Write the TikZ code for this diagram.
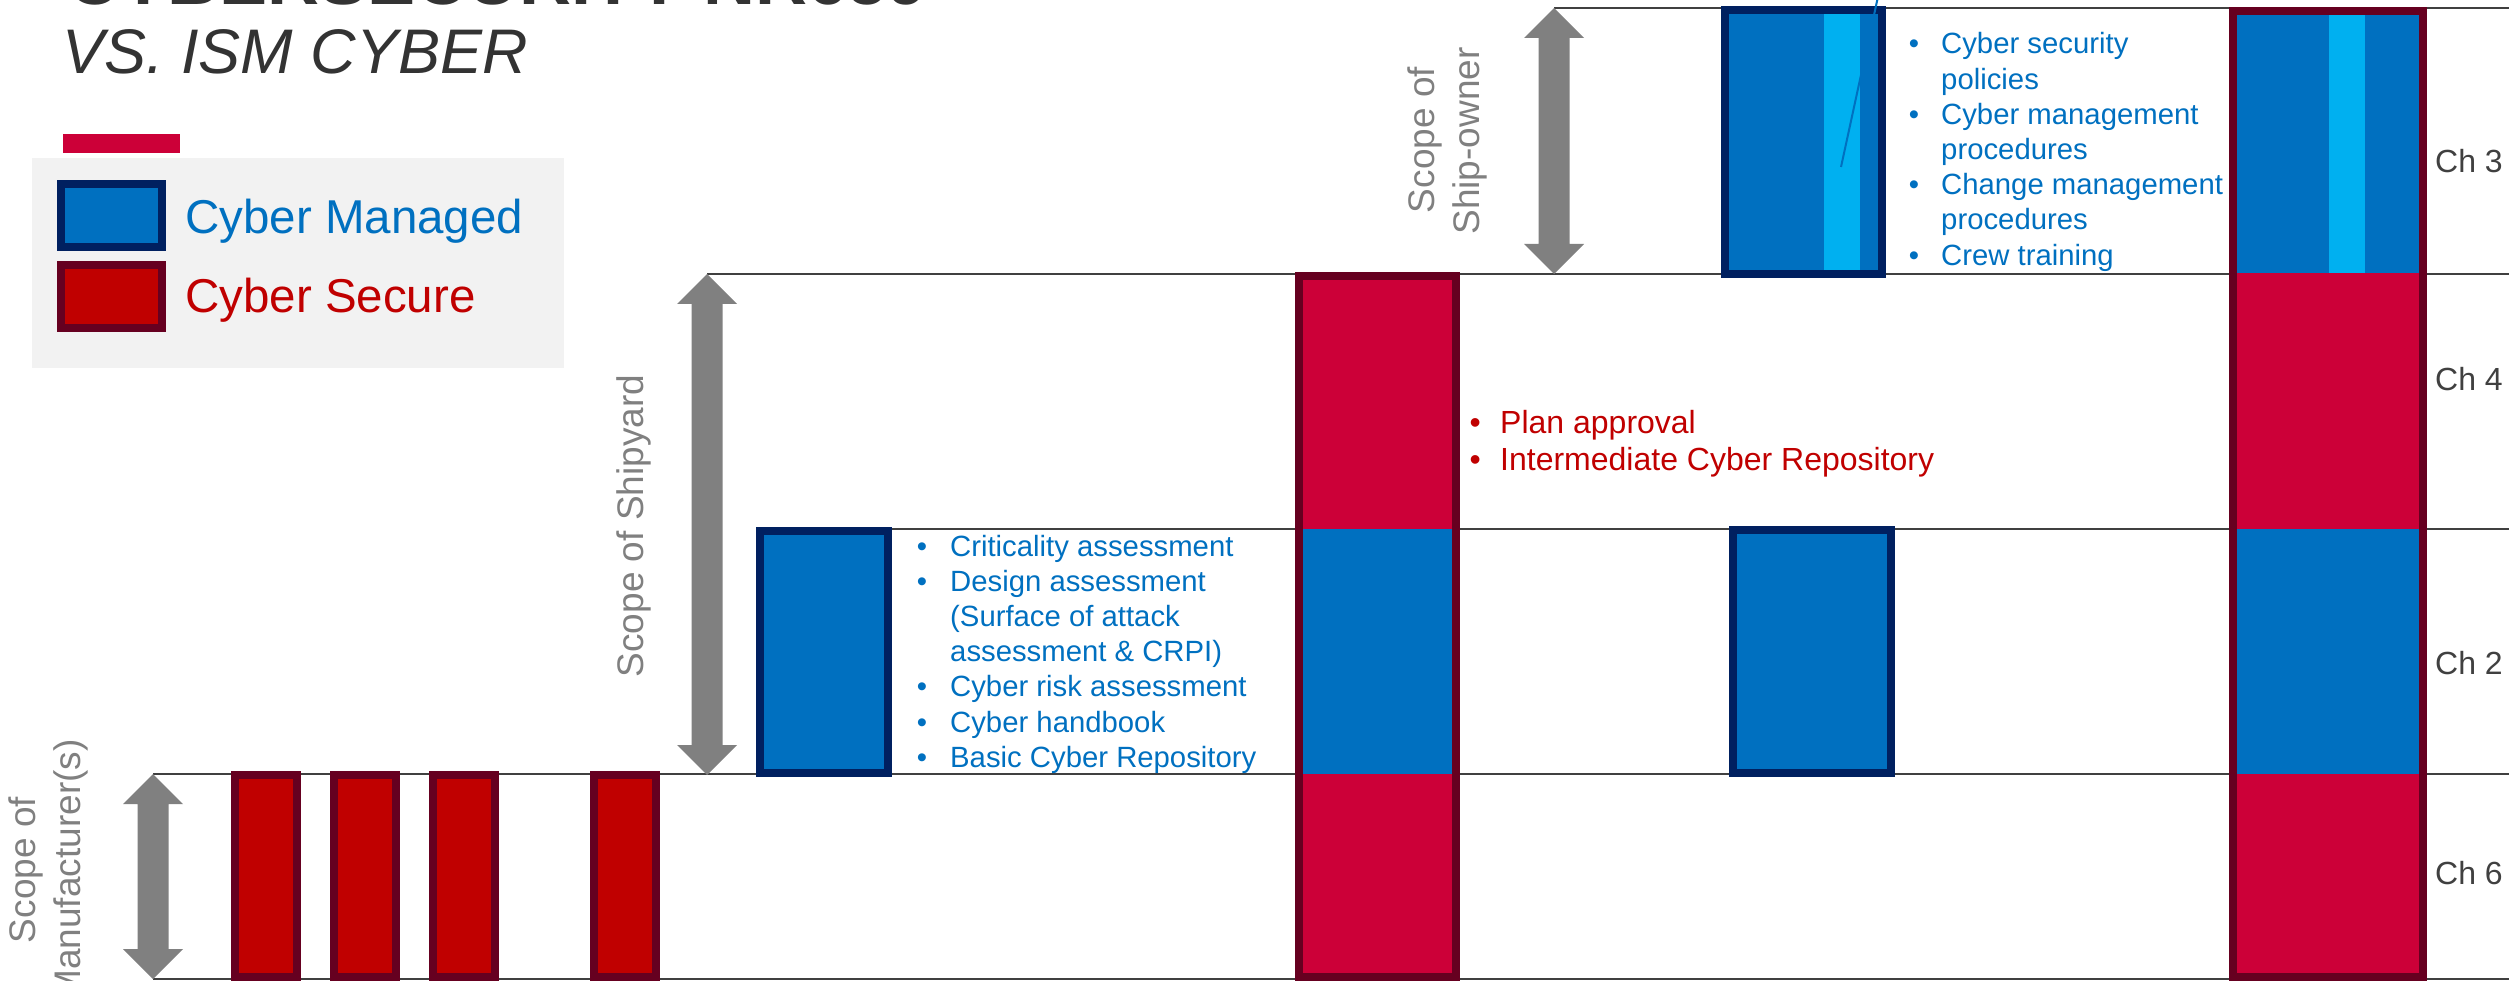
\documentclass[tikz,border=0pt]{standalone}
\usepackage{fontspec}
\setmainfont{Liberation Sans}
\usetikzlibrary{calc}

\definecolor{navy}{HTML}{002060}
\definecolor{cmblue}{HTML}{0070C0}
\definecolor{cmlight}{HTML}{00B0F0}
\definecolor{maroon}{HTML}{660020}
\definecolor{csred}{HTML}{C00000}
\definecolor{crimson}{HTML}{CC0038}
\definecolor{scopegray}{HTML}{808080}
\definecolor{rulegray}{HTML}{404040}
\definecolor{legendbg}{HTML}{F2F2F2}
\definecolor{titlegray}{HTML}{333333}

% thick two-headed scope arrow between two named coordinates (top, bottom)
\newcommand\ScopeArrow[2]{%
  \fill[scopegray] (#1) -- ($(#1)+(30,30)$) -- ($(#1)+(15.5,30)$)
    -- ($(#2)+(15.5,-30)$) -- ($(#2)+(30,-30)$) -- (#2)
    -- ($(#2)+(-30,-30)$) -- ($(#2)+(-15.5,-30)$)
    -- ($(#1)+(-15.5,30)$) -- ($(#1)+(-30,30)$) -- cycle;}
% bullet hung to the left of a list line
\newcommand\itembullet[1]{\llap{\textbullet\hspace{#1}}}

\begin{document}
\begin{tikzpicture}[x=1pt,y=-1pt,
  frame/.style={draw, line width=8pt, inner sep=0pt, outer sep=0pt},
  managed/.style={frame, draw=navy, fill=cmblue},
  secure/.style={frame, draw=maroon, fill=csred},
  rulel/.style={draw=rulegray, line width=2.5pt},
  bluetxt/.style={anchor=base west, inner sep=0pt, text=cmblue, font=\fontsize{29.3}{35.2}\selectfont},
  redtxt/.style={anchor=base west, inner sep=0pt, text=csred, font=\fontsize{32}{38}\selectfont},
  scopetxt/.style={rotate=90, anchor=base, inner sep=0pt, text=scopegray, font=\fontsize{37}{44}\selectfont},
  chtxt/.style={anchor=base west, inner sep=0pt, text=rulegray, font=\fontsize{32}{38}\selectfont},
]
\useasboundingbox (0,0) rectangle (2509,981);

% ---- title ----
\node[anchor=base west, inner sep=0pt, text=titlegray, font=\fontsize{72}{80}\selectfont\bfseries] (title1) at (67,5) {CYBERSECURITY NR659};
\node[anchor=base west, inner sep=0pt, text=titlegray, font=\fontsize{63}{70}\selectfont\itshape] (title2) at (62,74) {VS. ISM CYBER};

% ---- legend ----
\fill[crimson] (63,134) rectangle (180,153);
\fill[legendbg] (32,158) rectangle (564,368);
\node[managed, minimum width=101, minimum height=63] (lgm) at (111.5,215.5) {};
\node[secure, minimum width=101, minimum height=63] (lgs) at (111.5,296.5) {};
\node[anchor=base west, inner sep=0pt, text=cmblue, font=\fontsize{47.5}{55}\selectfont] (lgmt) at (185,234) {Cyber Managed};
\node[anchor=base west, inner sep=0pt, text=csred, font=\fontsize{47.5}{55}\selectfont] (lgst) at (185,313) {Cyber Secure};

% ---- level rules ----
\coordinate (mfTop) at (153,774);  \coordinate (mfBot) at (153,979);
\coordinate (syTop) at (707,274);  \coordinate (syBot) at (707,775);
\coordinate (soTop) at (1554,8);   \coordinate (soBot) at (1554,274);
\coordinate (l2a) at (757,529);
\coordinate (r0) at (2509,8);   \coordinate (r1) at (2509,274);
\coordinate (r2) at (2509,529); \coordinate (r3) at (2509,774);
\coordinate (r4) at (2509,979);
\draw[rulel] (soTop) -- (r0);
\draw[rulel] (syTop) -- (r1);
\draw[rulel] (l2a) -- (r2);
\draw[rulel] (mfTop) -- (r3);
\draw[rulel] (mfBot) -- (r4);

% ---- scope arrows ----
\ScopeArrow{mfTop}{mfBot}
\ScopeArrow{syTop}{syBot}
\ScopeArrow{soTop}{soBot}

\node[scopetxt] (mfs1) at (35.5,870) {Scope of};
\node[scopetxt] (mfs2) at (80.5,870) {Manufacturer(s)};
\node[scopetxt] (sys) at (643,526) {Scope of Shipyard};
\node[scopetxt] (sos1) at (1434,140) {Scope of};
\node[scopetxt] (sos2) at (1479,141) {Ship-owner};

% ---- manufacturer equipment ----
\foreach \cx [count=\i] in {265.5,365,464,625}
  \node[secure, minimum width=62, minimum height=202] (eq\i) at (\cx,876) {};

% ---- shipyard design box ----
\node[managed, minimum width=128, minimum height=242] (design) at (824,652) {};
\node[bluetxt] (d1) at (950,556)   {\itembullet{23pt}Criticality assessment};
\node[bluetxt] (d2) at (950,591.2) {\itembullet{23pt}Design assessment};
\node[bluetxt] (d3) at (950,626.4) {(Surface of attack};
\node[bluetxt] (d4) at (950,661.6) {assessment \& CRPI)};
\node[bluetxt] (d5) at (950,696.8) {\itembullet{23pt}Cyber risk assessment};
\node[bluetxt] (d6) at (950,732)   {\itembullet{23pt}Cyber handbook};
\node[bluetxt] (d7) at (950,767.2) {\itembullet{23pt}Basic Cyber Repository};

% ---- plan approval column ----
\fill[crimson] (1299,276) rectangle (1456,529);
\fill[cmblue]  (1299,529) rectangle (1456,774);
\fill[crimson] (1299,774) rectangle (1456,977);
\node[frame, draw=maroon, minimum width=157, minimum height=701] (plan) at (1377.5,626.5) {};
\node[redtxt] (p1) at (1500,433) {\itembullet{19.5pt}Plan approval};
\node[redtxt] (p2) at (1500,471) {\itembullet{19.5pt}Intermediate Cyber Repository};

% ---- ship-owner box ----
\fill[cmblue]  (1725,10) rectangle (1882,274);
\fill[cmlight] (1824,10) rectangle (1860,274);
\node[frame, draw=navy, minimum width=157, minimum height=264] (owner) at (1803.5,142) {};
\coordinate (leadA) at (1841,167);
\coordinate (leadB) at (1879,-8);
\draw[cmblue, line width=2pt] (leadA) -- (leadB);
\node[bluetxt] (o1) at (1941,54)    {\itembullet{22pt}Cyber security};
\node[bluetxt] (o2) at (1941,89.2)  {policies};
\node[bluetxt] (o3) at (1941,124.4) {\itembullet{22pt}Cyber management};
\node[bluetxt] (o4) at (1941,159.6) {procedures};
\node[bluetxt] (o5) at (1941,194.8) {\itembullet{22pt}Change management};
\node[bluetxt] (o6) at (1941,230)   {procedures};
\node[bluetxt] (o7) at (1941,265.2) {\itembullet{22pt}Crew training};

% ---- ship-owner ch 2 box ----
\node[managed, minimum width=158, minimum height=243] (ownerch2) at (1812,651.5) {};

% ---- complete ship column ----
\fill[cmblue]  (2233,11) rectangle (2423,273);
\fill[cmlight] (2329,11) rectangle (2365,273);
\fill[crimson] (2233,273) rectangle (2423,529);
\fill[cmblue]  (2233,529) rectangle (2423,774);
\fill[crimson] (2233,774) rectangle (2423,977);
\node[frame, draw=maroon, minimum width=190, minimum height=966] (ship) at (2328,494) {};

\node[chtxt] (ch3) at (2435,173) {Ch 3};
\node[chtxt] (ch4) at (2435,391) {Ch 4};
\node[chtxt] (ch2) at (2435,674) {Ch 2};
\node[chtxt] (ch6) at (2435,884) {Ch 6};
\end{tikzpicture}
\end{document}
